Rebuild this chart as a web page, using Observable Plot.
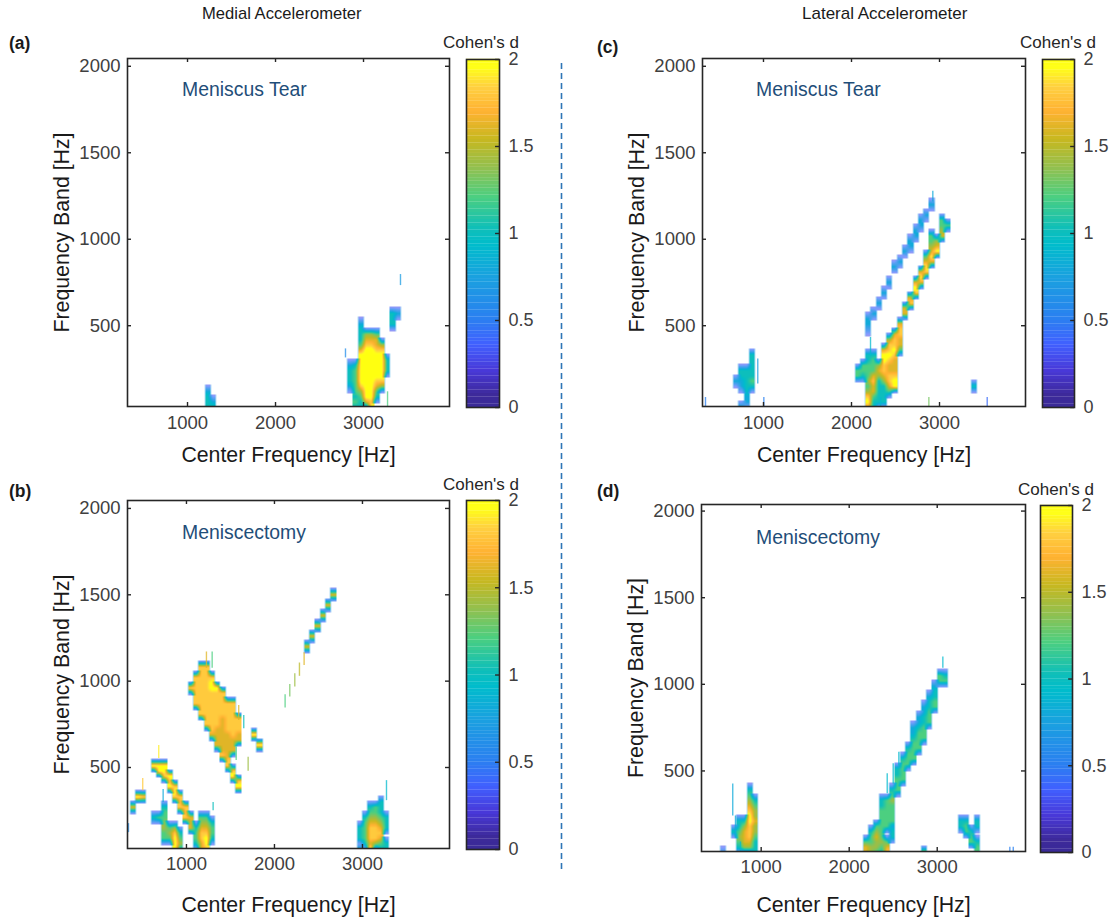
<!DOCTYPE html>
<html>
<head>
<meta charset="utf-8">
<script src="https://cdn.jsdelivr.net/npm/d3@7"></script>
<script src="https://cdn.jsdelivr.net/npm/@observablehq/plot@0.6"></script>
<style>
html,body{margin:0;padding:0;background:#fff;}
#page{position:relative;width:1110px;height:922px;overflow:hidden;font-family:"Liberation Sans",Arial,sans-serif;}
#page svg{position:absolute;background:transparent;}
.t{position:absolute;white-space:nowrap;transform:translateY(-50%);line-height:1.2;}
</style>
</head>
<body>
<div id="page"></div>
<script>
// Effect-size columns: [center frequency Hz, lowest band Hz, values going up in 30 Hz band steps]
// value characters: digit k = k*0.2 Cohen's d, X = 2, "." = below threshold
const medialTear = [
 [1230,30,"5554"],[1290,30,"54"],
 [2850,150,"45554"],[2910,30,"565666665"],
 [2970,30,"55679XXXXXX865554"],[3030,60,"8XXXXXXXXXX987"],
 [3090,30,"X9XXXXXXXXXX987"],[3150,90,"5689XXXXX9886"],
 [3210,150,"79XXXXX97"],[3270,240,"555"],
 [3330,510,"555"],[3390,570,"4"]
];
const medialTearThin = [[3420,732,796,.7],[2795,314,366,.6],[3273,30,118,1.2]];

const medialMeniscectomy = [
 [2670,1500,"8"],[2610,1440,"8"],[2550,1380,"8"],[2490,1320,"8"],[2430,1260,"8"],[2370,1200,"8"],
 [1050,960,"9"],[1110,870,"999999"],[1170,810,"9999999999"],[1230,750,"999999999999"],
 [1290,690,"899999999XX9"],[1350,630,"88889999999X"],[1410,570,"9888888899999"],
 [1470,510,"9988888999999"],[1530,450,"X9"],[1530,600,"8889999999"],
 [1590,660,"88999"],[1590,390,"X9"],[1770,690,"X"],[1830,630,"X"],
 [630,510,"X"],[690,480,"XX"],[750,450,"9XX"],[810,390,"X9X"],[870,330,"9X9"],
 [930,270,"999"],[990,210,"999"],[1050,150,"888"],
 [630,210,"5"],[690,210,"6"],[750,90,"6677665"],[810,90,"676"],[870,30,"XXX97"],[930,30,"5765"],
 [1110,60,"5665"],[1170,30,"8899876"],[1230,30,"9XX9876"],[1290,90,"5665"],
 [450,330,"X"],[510,330,"9"],[390,270,"8"],
 [2970,30,"4.555"],[3030,60,"566665"],[3090,30,"X89998765"],[3150,60,"79998766"],
 [3210,30,"5689876555"],[3270,30,"55"],[3270,150,"555"]
];
const medialMeniscectomyThin = [
 [2337,1091,1165,1.6],[2284,1028,1105,1.5],[2231,966,1043,1.4],[2174,908,981,1.3],[2121,844,921,1.2],
 [1227,1074,1169,1.6],[1292,1074,1169,1.2],[1594,772,859,1.6],[1651,724,801,1],[1565,540,618,1.2],
 [1701,478,560,1.4],[503,366,436,1.8],[685,552,627,1.9],[1303,250,298,1],[735,297,372,.8],[341,123,175,.6],
 [3273,308,424,.9]
];

const lateralTear = [
 [2910,1200,"4"],[2850,1140,"4"],[2790,1080,"44"],[2730,1020,"44"],[2670,960,"44"],[2610,930,"4"],
 [2550,870,"4"],[2490,840,"4"],[2430,750,"4"],[2370,690,"4"],[2310,630,"4"],[2250,570,"4"],[2190,480,"344"],
 [3090,1080,"6"],[3030,1020,"8766"],[2970,930,"X87"],[2910,870,"8X8766"],[2850,810,"9X86"],
 [2790,750,"8X8"],[2730,690,"9X8"],[2670,630,"98"],[2610,570,"88"],[2550,360,"688998"],
 [2490,150,"XX98889X998"],[2430,120,"6899889X997"],[2370,60,"55557899XX8"],[2310,60,"55555787"],
 [2250,30,"55688986665"],[2190,30,"8X976766655"],[2130,210,"566"],[2070,210,"66"],
 [690,180,"4"],[750,150,"4455"],[750,30,"4"],[810,60,"4455555"],[870,150,"5655555"],
 [3390,150,"5"]
];
const lateralTearThin = [
 [2924,1215,1277,.8],[2216,325,432,.9],[341,30,85,.5],[1004,30,85,.5],[2879,30,85,1.3],[3542,30,85,.4],
 [935,163,308,.7],[2330,30,85,.9]
];

const lateralMeniscectomy = [
 [570,30,"3"],[690,150,"5"],[750,60,"567655"],[810,60,"788875"],[870,60,"78999XX98765"],[930,30,"55567787765"],
 [2190,30,"886"],[2250,30,"77665"],[2310,30,"677876"],[2370,30,"56766666655"],[2430,30,"986"],[2430,180,"666666"],
 [2490,120,"5546666765"],[2550,390,"66655"],[2610,450,"66665"],[2670,540,"6665"],[2730,570,"6666544"],
 [2790,630,"6666544"],[2850,690,"6665544"],[2850,30,"7"],[2910,780,"666554"],[2970,870,"66554"],
 [3030,1020,"66"],[3090,1020,"65"],
 [3270,180,"55"],[3330,150,"665"],[3390,90,"665"],[3450,30,"665"],[3450,180,"55"]
];
const lateralMeniscectomyThin = [
 [677,240,424,.8],[708,115,240,.8],[765,30,90,.9],[2500,425,542,.9],[2564,530,608,.9],[2432,368,484,.9],
 [3064,1093,1157,.9],[3825,30,60,.5],[3864,30,60,.5]
];

const colorStops = [0,.06,.2,.35,.5,.73,.92,1.02,1.2,1.36,1.53,1.69,1.83,1.94,2];
const colorRange = ["#3a2a98","#3d2a9a","#4838d8","#4060ff","#2a80f0","#1aa0e0","#00bccc","#10bfb8","#4ccf80","#90c050","#c8b81f","#ffb232","#ffd040","#ffff18","#ffff10"];
const colorTicks = [0,.5,1,1.5,2];
const xTicks = [1000,2000,3000];
const yTicks = [500,1000,1500,2000];
const cbarLevels = d3.range(0,2,.02);

const INK="#262626", TICK="#404040";
const page=document.getElementById("page");
const color={type:"linear",domain:colorStops,range:colorRange,clamp:true};
const charValue=c=>c==="X"?2:(+c)*.2;

function sampler(cols){
  const g=new Map();
  for(const [hz,low,vals] of cols){
    [...vals].forEach((c,k)=>{ if(c!=="."){ g.set(((hz-330)/60)+":"+((low-30)/30+k),charValue(c)); } });
  }
  const EDGE=.25, REACH=1.35;
  const colV=(i,j,t)=>{
    const a=g.get(i+":"+j),b=g.get(i+":"+(j+1));
    if(a!==undefined&&b!==undefined) return a*(1-t)+b*t;
    if(a!==undefined){ const s=t/REACH; return a*(1-s)+EDGE*s; }
    if(b!==undefined){ const s=(1-t)/REACH; return b*(1-s)+EDGE*s; }
    // just past a neighbouring row: the tail of the fade
    const under=g.get(i+":"+(j-1)), over=g.get(i+":"+(j+2));
    if(under!==undefined&&t<REACH-1){ const s=(1+t)/REACH; return under*(1-s)+EDGE*s; }
    if(over!==undefined&&(1-t)<REACH-1){ const s=(2-t)/REACH; return over*(1-s)+EDGE*s; }
    return NaN;
  };
  const ev=(hz,band)=>{
    const fi=(hz-330)/60,i=Math.floor(fi),tx=fi-i,fj=(band-30)/30,j=Math.floor(fj),ty=fj-j;
    const L=colV(i,j,ty),R=colV(i+1,j,ty);
    if(!isNaN(L)&&!isNaN(R)) return [L*(1-tx)+R*tx,1];
    const near=tx<.5?L:R, far=tx<.5?R:L, gap=Math.abs(tx-.5);
    if(!isNaN(near)) return [near,1];
    if(!isNaN(far)&&gap<.17) return [.7,.35];   // pale rim beside a column
    return [NaN,0];
  };
  const d=(hz,band)=>ev(hz,band)[0];
  const o=(hz,band)=>{const [v,k]=ev(hz,band); return isNaN(v)?0:k*Math.min(1,.55+.45*Math.max(0,v-EDGE)/.55);};
  return {d,o};
}

function panel(p){
  const mL=110,mR=5,mT=10,mB=72;
  const s=sampler(p.cols);
  const [x0,x1]=p.xd,[y0,y1]=p.yd;
  const tx=(x1-x0)/(p.R-p.L)*4, ty=(y1-y0)/(p.B-p.T)*4;
  const svg=Plot.plot({
    width:p.R-p.L+mL+mR,height:p.B-p.T+mT+mB,
    marginLeft:mL,marginRight:mR,marginTop:mT,marginBottom:mB,
    style:{fontFamily:"Liberation Sans, Arial, sans-serif",background:"transparent"},
    x:{domain:p.xd,label:null},y:{domain:p.yd,label:null},color,
    marks:[
      Plot.raster({x1:x0,x2:x1,y1:y0,y2:y1,fill:s.d,fillOpacity:s.o,pixelSize:1,imageRendering:"auto"}),
      Plot.ruleX(p.thin,{x:d=>d[0],y1:d=>d[1],y2:d=>d[2],stroke:d=>d[3],strokeWidth:1.4,strokeOpacity:.75}),
      Plot.ruleX(xTicks,{y1:y0,y2:y0+ty,stroke:INK,strokeWidth:1.4}),
      Plot.ruleX(xTicks,{y1:y1,y2:y1-ty,stroke:INK,strokeWidth:1.4}),
      Plot.ruleY(yTicks,{x1:x0,x2:x0+tx,stroke:INK,strokeWidth:1.4}),
      Plot.ruleY(yTicks,{x1:x1,x2:x1-tx,stroke:INK,strokeWidth:1.4}),
      Plot.axisX({ticks:xTicks,tickSize:0,tickPadding:p.xPad,fontSize:18.5,color:TICK,label:null,tickFormat:d=>String(d)}),
      Plot.axisY({ticks:yTicks,tickSize:0,tickPadding:7,fontSize:18.5,color:TICK,label:null,tickFormat:d=>String(d)}),
      Plot.axisX({ticks:[],tickSize:0,fontSize:21.3,color:"#1a1a1a",label:"Center Frequency [Hz]",labelAnchor:"center",labelArrow:"none",labelOffset:p.xLab,dx:p.labDx}),
      Plot.axisY({ticks:[],tickSize:0,fontSize:21.3,color:"#1a1a1a",label:"Frequency Band [Hz]",labelAnchor:"center",labelArrow:"none",labelOffset:74,dy:p.labDy}),
      Plot.frame({stroke:INK,strokeWidth:1.6})
    ]
  });
  svg.style.left=(p.L-mL)+"px";svg.style.top=(p.T-mT)+"px";
  page.appendChild(svg);
}

function colorbar(c){
  const mL=2,mR=44,mT=14,mB=14;
  const svg=Plot.plot({
    width:c.R-c.L+mL+mR,height:c.B-c.T+mT+mB,
    marginLeft:mL,marginRight:mR,marginTop:mT,marginBottom:mB,
    style:{fontFamily:"Liberation Sans, Arial, sans-serif",background:"transparent"},
    x:{domain:[0,1],axis:null},y:{domain:[0,2],label:null,axis:null},color,
    marks:[
      Plot.rect(cbarLevels,{x1:0,x2:1,y1:d=>d,y2:d=>d+.021,fill:d=>d}),
      Plot.ruleY(colorTicks,{x1:1,x2:.88,stroke:INK,strokeWidth:1.4}),
      Plot.axisY({anchor:"right",ticks:colorTicks,tickSize:0,tickPadding:9,fontSize:18,color:TICK,label:null,tickFormat:d=>String(d)}),
      Plot.frame({stroke:INK,strokeWidth:1.6})
    ]
  });
  svg.style.left=(c.L-mL)+"px";svg.style.top=(c.T-mT)+"px";
  page.appendChild(svg);
}

function label(txt,x,y,size,col,extra){
  const e=document.createElement("div");
  e.className="t";e.textContent=txt;
  e.style.left=x+"px";e.style.top=y+"px";e.style.fontSize=size+"px";e.style.color=col;
  if(extra) Object.assign(e.style,extra);
  page.appendChild(e);
}

panel({L:127,R:449,T:58,B:406,xd:[318,3977],yd:[33,2045],xPad:9,xLab:55,labDx:3,labDy:-4,cols:medialTear,thin:medialTearThin});
panel({L:127,R:449,T:500,B:848,xd:[330,3989],yd:[31,2046],xPad:8,xLab:63,labDx:3,labDy:11,cols:medialMeniscectomy,thin:medialMeniscectomyThin});
panel({L:702,R:1025,T:58,B:406,xd:[307,3977],yd:[33,2045],xPad:9,xLab:55,labDx:2,labDy:-4,cols:lateralTear,thin:lateralTearThin});
panel({L:701,R:1025,T:504,B:851,xd:[322,4003],yd:[35,2038],xPad:8,xLab:60,labDx:2,labDy:9,cols:lateralMeniscectomy,thin:lateralMeniscectomyThin});

colorbar({L:466,R:499,T:59,B:407});
colorbar({L:466,R:499,T:500,B:849});
colorbar({L:1042,R:1074,T:59,B:407});
colorbar({L:1040,R:1072,T:505,B:852});

// divider between the two accelerometer columns
const div=Plot.plot({
  width:10,height:806,margin:0,x:{domain:[0,1],axis:null},y:{domain:[0,1],axis:null},
  style:{background:"transparent"},
  marks:[Plot.ruleX([.5],{stroke:"#2e75b6",strokeWidth:1.6,strokeDasharray:"6,4"})]
});
div.style.left="555.5px";div.style.top="63px";page.appendChild(div);

label("Medial Accelerometer",202,14,16.6,"#1a1a1a");
label("Lateral Accelerometer",802,14,17,"#1a1a1a");
[["(a)",9,43],["(b)",9,491],["(c)",597,47],["(d)",597,491]].forEach(([s,x,y])=>label(s,x,y,17.5,"#1a1a1a",{fontWeight:"bold"}));
[[443,43],[443,485],[1020,43],[1018,490]].forEach(([x,y])=>label("Cohen's d",x,y,17,"#262626"));
[["Meniscus Tear",182,90],["Meniscus Tear",756,90],["Meniscectomy",182,533],["Meniscectomy",756,538]].forEach(([s,x,y])=>label(s,x,y,19.4,"#1f4e79"));
</script>
</body>
</html>
